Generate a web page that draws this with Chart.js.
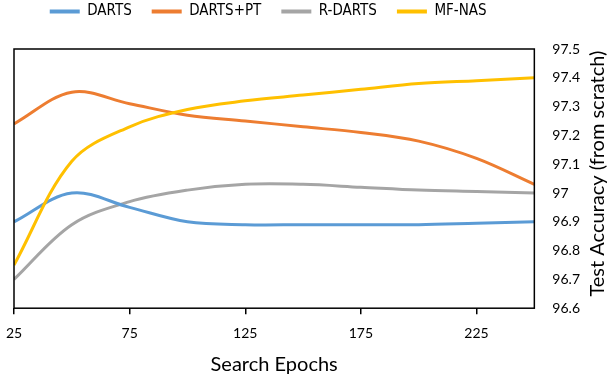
<!DOCTYPE html>
<html>
<head>
<meta charset="utf-8">
<script src="https://cdn.jsdelivr.net/npm/chart.js@4.4.1/dist/chart.umd.min.js"></script>
<style>
  body { margin: 0; background: #fff; }
  #wrap { width: 612px; height: 377px; }
</style>
</head>
<body>
<div id="wrap"><canvas id="grafico" width="612" height="377"></canvas></div>
<script>
const epochs = [25, 50, 75, 100, 125, 150, 175, 200, 225, 250];
const darts = [96.90, 97.00, 96.95, 96.90, 96.89, 96.89, 96.89, 96.89, 96.895, 96.90];
const dartsPt = [97.24, 97.35, 97.31, 97.27, 97.25, 97.23, 97.21, 97.18, 97.12, 97.03];
const rDarts = [96.70, 96.89, 96.97, 97.01, 97.03, 97.03, 97.02, 97.01, 97.005, 97.00];
const mfNas = [96.75, 97.11, 97.23, 97.29, 97.32, 97.34, 97.36, 97.38, 97.39, 97.40];

const xTicks = [25, 75, 125, 175, 225];
const yTicks = [96.6, 96.7, 96.8, 96.9, 97.0, 97.1, 97.2, 97.3, 97.4, 97.5];

const seriesNames = ["DARTS", "DARTS+PT", "R-DARTS", "MF-NAS"];
const seriesColors = ["#5B9BD5", "#ED7D31", "#A5A5A5", "#FFC000"];
const seriesValues = [darts, dartsPt, rDarts, mfNas];

const yTitle = "Test Accuracy (from scratch)";

function montarDataset(i) {
  return {
    label: seriesNames[i],
    data: epochs.map((e, j) => ({ x: e, y: seriesValues[i][j] })),
    borderColor: seriesColors[i],
    backgroundColor: seriesColors[i],
    borderWidth: 3,
    pointRadius: 0,
    tension: 0.35,
    fill: false
  };
}

// caixa preta em volta da area do grafico + titulo do eixo y (de baixo pra cima)
const caixa = {
  id: "caixa",
  afterLayout(chart) {
    // legenda centrada sobre a area do grafico e mais perto do topo
    const leg = chart.legend;
    leg.left = chart.chartArea.left - 6;
    leg.right = chart.chartArea.right - 6;
    leg.top -= 20;
  },
  afterDraw(chart) {
    const { ctx, chartArea } = chart;
    ctx.save();
    ctx.strokeStyle = "#000";
    ctx.lineWidth = 1.5;
    ctx.strokeRect(chartArea.left, chartArea.top, chartArea.right - chartArea.left, chartArea.bottom - chartArea.top);

    ctx.translate(598, (chartArea.top + chartArea.bottom) / 2 - 5);
    ctx.rotate(-Math.PI / 2);
    ctx.fillStyle = "#000";
    ctx.font = "20px Lato";
    ctx.textAlign = "center";
    ctx.textBaseline = "middle";
    ctx.fillText(yTitle, 0, 0);
    ctx.restore();
  }
};

const ctx = document.getElementById("grafico").getContext("2d");

new Chart(ctx, {
  type: "line",
  data: {
    datasets: [3, 0, 1, 2].map(montarDataset)
  },
  options: {
    responsive: false,
    animation: false,
    layout: { padding: { left: 6, right: 22, top: 4, bottom: 0 } },
    plugins: {
      legend: {
        position: "top",
        labels: {
          font: { family: "'DejaVu Sans Condensed', Lato, sans-serif", size: 15 },
          color: "#000",
          boxWidth: 30,
          boxHeight: 4,
          padding: 20,
          generateLabels(chart) {
            return seriesNames.map((n, i) => ({
              text: n,
              fillStyle: seriesColors[i],
              strokeStyle: seriesColors[i],
              lineWidth: 0,
              datasetIndex: i
            }));
          }
        }
      },
      tooltip: { enabled: false }
    },
    scales: {
      x: {
        type: "linear",
        min: 25,
        max: 250,
        afterBuildTicks(axis) {
          axis.ticks = xTicks.map(v => ({ value: v }));
        },
        afterFit(axis) {
          axis.paddingLeft = 14;
        },
        grid: { drawOnChartArea: false, drawTicks: true, tickLength: 6, color: "#000", lineWidth: 1.5 },
        border: { display: false },
        ticks: { color: "#000", font: { family: "Lato", size: 14 }, padding: 11, maxRotation: 0 },
        title: { display: true, text: "Search Epochs", color: "#000", font: { family: "Lato", size: 20 }, padding: { top: 0, bottom: 0 } }
      },
      y: {
        position: "right",
        min: 96.6,
        max: 97.5,
        afterBuildTicks(axis) {
          axis.ticks = yTicks.map(v => ({ value: v }));
        },
        grid: { display: false },
        border: { display: false },
        ticks: {
          color: "#000",
          font: { family: "Lato", size: 14 },
          padding: 10,
          callback: v => String(Number(v.toFixed(1)))
        }
      }
    }
  },
  plugins: [caixa]
});
</script>
</body>
</html>
